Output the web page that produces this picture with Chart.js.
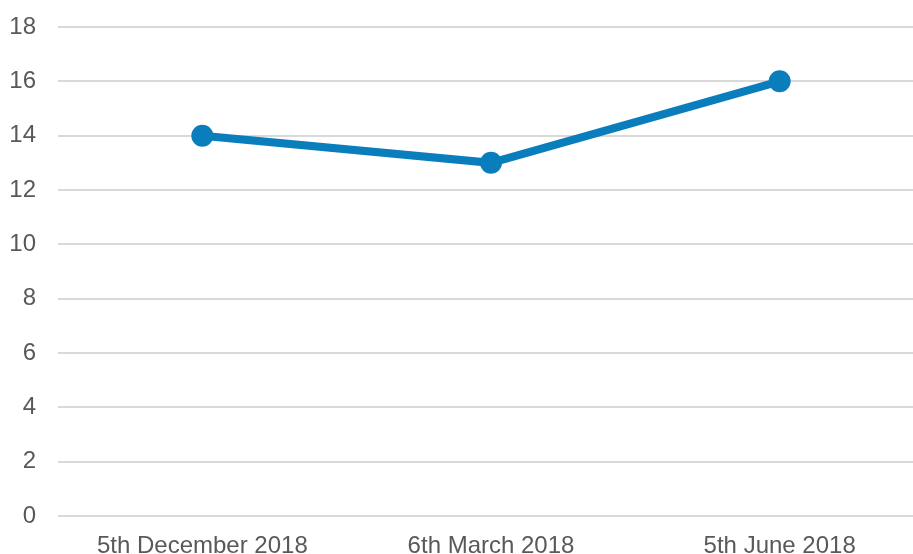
<!DOCTYPE html>
<html><head><meta charset="utf-8">
<script src="https://cdn.jsdelivr.net/npm/chart.js@4"></script>
<style>html,body{margin:0;padding:0;overflow:hidden;background:#fff;width:913px;height:554px}#wrap{width:913px;height:554px;position:relative}</style>
</head><body><div id="wrap"><canvas id="c"></canvas></div>
<script>
const categories = ["5th December 2018", "6th March 2018", "5th June 2018"];
const values = [14, 13, 16];
const yTicks = [0, 2, 4, 6, 8, 10, 12, 14, 16, 18];

// The plot area in the reference runs slightly past the right edge of the image.
const extendRight = {
  id: 'extendRight',
  afterLayout(chart) {
    const right = chart.chartArea.left + 866;
    chart.chartArea.right = right;
    chart.chartArea.width = right - chart.chartArea.left;
    const s = chart.scales.x;
    s.right = right;
    s.width = right - s.left;
    s.configure();
  }
};

new Chart(document.getElementById('c'), {
  type: 'line',
  data: { labels: categories, datasets: [{
    data: values, borderColor: '#0a7dbc', backgroundColor: '#0a7dbc',
    borderWidth: 8, pointRadius: 11, pointBorderWidth: 0, pointBackgroundColor: '#0a7dbc', tension: 0
  }]},
  plugins: [extendRight],
  options: {
    responsive: true, maintainAspectRatio: false, animation: false,
    layout: { padding: { top: 27, right: 0, bottom: 0, left: 0 } },
    plugins: { legend: { display: false }, tooltip: { enabled: false } },
    scales: {
      x: { offset: true, grid: { display: false, drawTicks: false }, border: { display: false },
        afterFit: s => { s.height = 38; s.paddingLeft = 0; s.paddingRight = 0; },
        ticks: { padding: 16, color: '#595959', font: { family: 'Liberation Sans, Arial', size: 24 }, maxRotation: 0, autoSkip: false } },
      y: { min: 0, max: 18, grid: { color: '#d9d9d9', lineWidth: 2, drawTicks: false }, border: { display: false },
        afterFit: s => { s.width = 58; s.paddingTop = 0; s.paddingBottom = 0; },
        afterBuildTicks: s => { s.ticks = yTicks.map(v => ({ value: v })); },
        ticks: { padding: 22, color: '#595959', font: { family: 'Liberation Sans, Arial', size: 24 } } }
    }
  }
});
</script></body></html>
